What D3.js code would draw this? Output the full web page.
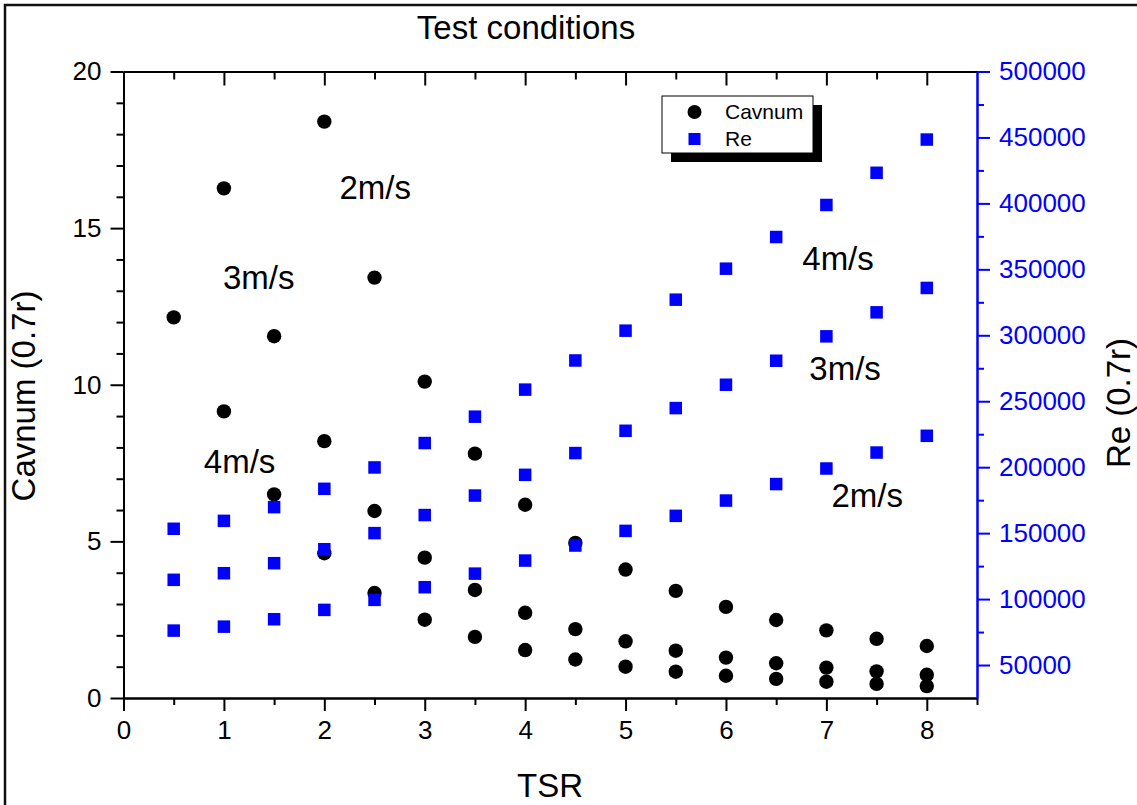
<!DOCTYPE html>
<html>
<head>
<meta charset="utf-8">
<script src="https://cdn.jsdelivr.net/npm/d3@7/dist/d3.min.js"></script>
<style>
  html, body { margin: 0; padding: 0; background: #fff; }
  svg { display: block; }
  text { font-family: "Liberation Sans", Arial, sans-serif; }
</style>
</head>
<body>
<svg id="chart" width="1137" height="805"></svg>
<script>
// ---------------- DATA ----------------
const tsr = [0.5, 1, 1.5, 2, 2.5, 3, 3.5, 4, 4.5, 5, 5.5, 6, 6.5, 7, 7.5, 8];

// Cavitation number (0.7r) for the three flow speeds (null = off scale)
const cav2 = [null, null, null, 18.4, 13.42, 10.1, 7.8, 6.17, 4.95, 4.1, 3.42, 2.91, 2.49, 2.16, 1.89, 1.66];
const cav3 = [null, 16.27, 11.55, 8.2, 5.97, 4.48, 3.45, 2.72, 2.2, 1.81, 1.51, 1.29, 1.11, 0.97, 0.85, 0.74];
const cav4 = [12.15, 9.15, 6.5, 4.62, 3.35, 2.5, 1.95, 1.53, 1.23, 1.0, 0.84, 0.71, 0.61, 0.52, 0.45, 0.38];

// Reynolds number (0.7r) for the three flow speeds
const re2 = [76100, 79100, 84700, 91800, 99400, 109000, 119300, 129200, 140600, 151700, 163100, 174700, 187200, 199000, 211100, 223800];
const re3 = [114600, 119600, 127200, 137800, 150000, 163700, 178500, 194200, 210700, 227600, 244800, 262500, 280700, 299200, 317400, 335900];
const re4 = [153300, 159300, 169700, 183600, 199800, 218300, 238300, 258800, 280900, 303500, 327000, 350500, 374500, 398800, 423200, 448400];

// Tick values
const xMajor = [0, 1, 2, 3, 4, 5, 6, 7, 8];
const xMinor = [0.5, 1.5, 2.5, 3.5, 4.5, 5.5, 6.5, 7.5, 8.5];
const yLeftMajor = [0, 5, 10, 15, 20];
const yLeftMinor = [1, 2, 3, 4, 6, 7, 8, 9, 11, 12, 13, 14, 16, 17, 18, 19];
const yRightMajor = [50000, 100000, 150000, 200000, 250000, 300000, 350000, 400000, 450000, 500000];
const yRightMinor = [75000, 125000, 175000, 225000, 275000, 325000, 375000, 425000, 475000];

// Annotations (data coordinates: TSR, Cavnum)
const annoText = ["2m/s", "3m/s", "4m/s", "4m/s", "3m/s", "2m/s"];
const annoX = [2.15, 0.99, 0.80, 6.76, 6.83, 7.05];
const annoY = [15.92, 13.07, 7.19, 13.65, 10.14, 6.10];

const legendLabels = ["Cavnum", "Re"];

// ---------------- CHART ----------------
const svg = d3.select("#chart");
const BLUE = "#0000ff";

const L = 123.5, R = 977, T = 71.5, B = 698;

const x = d3.scaleLinear().domain([0, 8.5]).range([L, R]);
const yL = d3.scaleLinear().domain([0, 20]).range([B, T]);
const yR = d3.scaleLinear().domain([25000, 500000]).range([B, T]);

// outer frame
svg.append("rect").attr("x", 5).attr("y", 5).attr("width", 1200).attr("height", 900)
  .attr("fill", "none").attr("stroke", "#111").attr("stroke-width", 2.5);

// title
svg.append("text").attr("x", 526).attr("y", 39).attr("text-anchor", "middle")
  .attr("font-size", 33).attr("fill", "#000").text("Test conditions");

function styleAxis(g, color) {
  g.selectAll("path.domain").attr("stroke", color).attr("stroke-width", 2);
  g.selectAll(".tick line").attr("stroke", color).attr("stroke-width", 2);
  g.selectAll(".tick text").attr("fill", color);
}

// bottom axis
const gxMin = svg.append("g").attr("transform", `translate(0,${B})`)
  .call(d3.axisBottom(x).tickValues(xMinor).tickSize(7).tickFormat("").tickSizeOuter(0));
styleAxis(gxMin, "#000");
const gx = svg.append("g").attr("transform", `translate(0,${B})`)
  .call(d3.axisBottom(x).tickValues(xMajor).tickSize(13).tickPadding(10).tickFormat(d3.format("d")).tickSizeOuter(0));
styleAxis(gx, "#000");
gx.selectAll(".tick text").attr("font-size", 26).attr("font-family", "Liberation Sans, Arial, sans-serif");

// top axis (ticks inward, no labels)
const gtMin = svg.append("g").attr("transform", `translate(0,${T})`)
  .call(d3.axisBottom(x).tickValues(xMinor.slice(0, -1)).tickSize(8).tickFormat("").tickSizeOuter(0));
styleAxis(gtMin, "#000");
const gt = svg.append("g").attr("transform", `translate(0,${T})`)
  .call(d3.axisBottom(x).tickValues(xMajor).tickSize(14).tickFormat("").tickSizeOuter(0));
styleAxis(gt, "#000");

// left axis
const gyMin = svg.append("g").attr("transform", `translate(${L},0)`)
  .call(d3.axisLeft(yL).tickValues(yLeftMinor).tickSize(7).tickFormat("").tickSizeOuter(0));
styleAxis(gyMin, "#000");
const gy = svg.append("g").attr("transform", `translate(${L},0)`)
  .call(d3.axisLeft(yL).tickValues(yLeftMajor).tickSize(13).tickPadding(9).tickFormat(d3.format("d")).tickSizeOuter(0));
styleAxis(gy, "#000");
gy.selectAll(".tick text").attr("font-size", 26).attr("font-family", "Liberation Sans, Arial, sans-serif");

// right axis (blue)
const grMin = svg.append("g").attr("transform", `translate(${R},0)`)
  .call(d3.axisRight(yR).tickValues(yRightMinor).tickSize(7).tickFormat("").tickSizeOuter(0));
styleAxis(grMin, BLUE);
const gr = svg.append("g").attr("transform", `translate(${R},0)`)
  .call(d3.axisRight(yR).tickValues(yRightMajor).tickSize(13).tickPadding(9).tickFormat(d3.format("d")).tickSizeOuter(0));
styleAxis(gr, BLUE);
gr.selectAll(".tick text").attr("font-size", 26).attr("font-family", "Liberation Sans, Arial, sans-serif");

// axis titles
svg.append("text").attr("x", 550).attr("y", 797).attr("text-anchor", "middle")
  .attr("font-size", 33).text("TSR");
svg.append("text").attr("transform", `translate(34.5,396) rotate(-90)`).attr("text-anchor", "middle")
  .attr("font-size", 33).text("Cavnum (0.7r)");
svg.append("text").attr("transform", `translate(1130,403) rotate(-90)`).attr("text-anchor", "middle")
  .attr("font-size", 33).text("Re (0.7r)");

// data points
const cavPts = [];
[cav2, cav3, cav4].forEach(arr => arr.forEach((v, i) => { if (v != null) cavPts.push({ t: tsr[i], v }); }));
const rePts = [];
[re2, re3, re4].forEach(arr => arr.forEach((v, i) => { if (v != null) rePts.push({ t: tsr[i], v }); }));

svg.append("g").selectAll("circle").data(cavPts).join("circle")
  .attr("cx", d => x(d.t)).attr("cy", d => yL(d.v)).attr("r", 7.2).attr("fill", "#000");

const S = 12.5;
svg.append("g").selectAll("rect").data(rePts).join("rect")
  .attr("x", d => x(d.t) - S / 2).attr("y", d => yR(d.v) - S / 2)
  .attr("width", S).attr("height", S).attr("fill", BLUE);

// annotations
svg.append("g").selectAll("text").data(annoText).join("text")
  .attr("x", (d, i) => x(annoX[i])).attr("y", (d, i) => yL(annoY[i]))
  .attr("font-size", 33).attr("fill", "#000").text(d => d);

// legend
const lg = svg.append("g").attr("transform", "translate(662,96)");
lg.append("rect").attr("x", 9).attr("y", 9).attr("width", 151).attr("height", 57).attr("fill", "#000");
lg.append("rect").attr("x", 0).attr("y", 0).attr("width", 151).attr("height", 57)
  .attr("fill", "#fff").attr("stroke", "#000").attr("stroke-width", 1);
lg.append("circle").attr("cx", 32.5).attr("cy", 16).attr("r", 7).attr("fill", "#000");
lg.append("rect").attr("x", 32.5 - 6).attr("y", 43 - 6).attr("width", 12).attr("height", 12).attr("fill", BLUE);
lg.selectAll("text.lab").data(legendLabels).join("text").attr("class", "lab")
  .attr("x", 63).attr("y", (d, i) => 23 + i * 26.5).attr("font-size", 21).text(d => d);
</script>
</body>
</html>
